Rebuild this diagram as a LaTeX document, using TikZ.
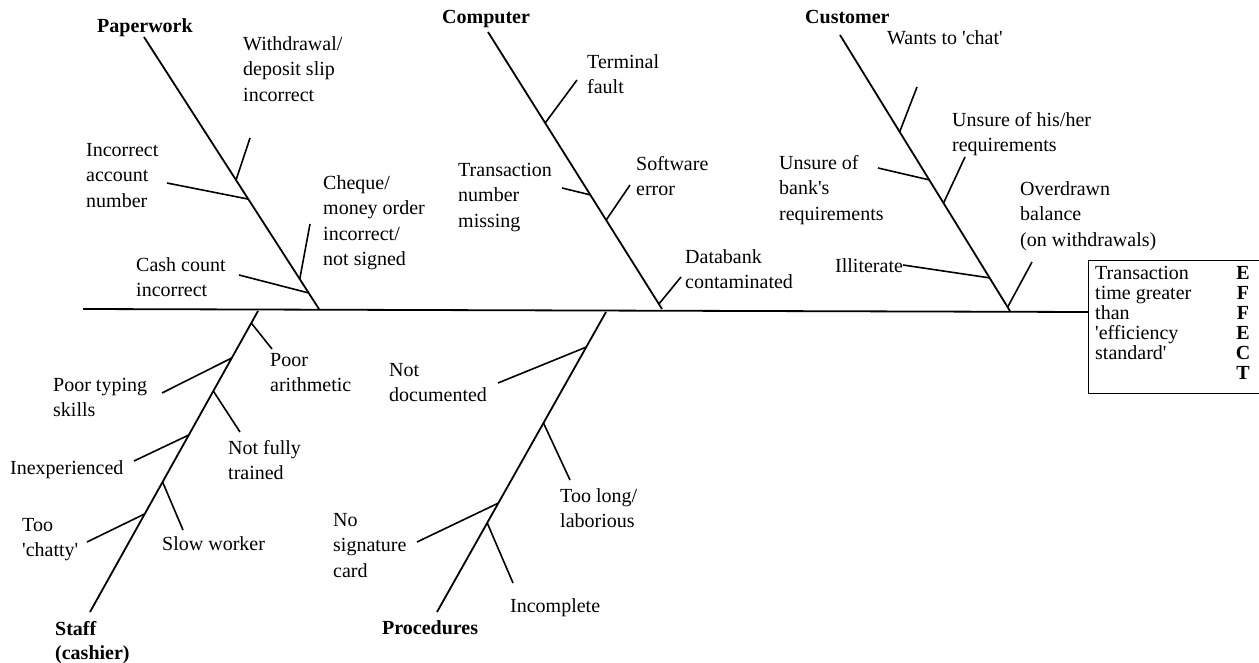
\documentclass[tikz,border=0pt]{standalone}
\usepackage{fontspec}
\setmainfont{Liberation Serif}
\usetikzlibrary{calc}
\newcommand{\sq}{\textquotesingle}
\begin{document}
\begin{tikzpicture}[x=1pt,y=-1pt,
  bone/.style={line width=1.8pt},
  twig/.style={line width=1.6pt},
  lbl/.style={anchor=north west, inner sep=0pt, align=left, font=\fontsize{20}{25.5}\selectfont},
  head/.style={anchor=north west, inner sep=0pt, align=left, font=\fontsize{20}{24}\selectfont\bfseries},
  boxtxt/.style={anchor=north west, inner sep=0pt, align=left, font=\fontsize{20}{20}\selectfont},
  boxlet/.style={anchor=north, inner sep=0pt, align=center, font=\fontsize{20}{20}\selectfont\bfseries},
]
\useasboundingbox (0,0) rectangle (1259,663);
\clip (0,0) rectangle (1259,663);

% effect box
\node[draw, line width=1.3pt, anchor=north west, inner sep=0pt, minimum width=185pt, minimum height=133pt] (effect) at (1088,260) {};
\node[boxtxt] (efftext) at (1095,266) {Transaction\\time greater\\than\\\sq efficiency\\standard\sq};
\node[boxlet] (effletters) at (1243,266) {E\\F\\F\\E\\C\\T};

% spine
\coordinate (tail) at (83,309);
\coordinate (head) at (1088,312);
\draw[bone] (tail) -- (head);

% main bones
\coordinate (P0) at (144,37);  \coordinate (P1) at (319,309);
\coordinate (C0) at (488,32);  \coordinate (C1) at (662,309);
\coordinate (U0) at (840,35);  \coordinate (U1) at (1010,311);
\coordinate (S0) at (258,311); \coordinate (S1) at (90,612);
\coordinate (R0) at (606,312); \coordinate (R1) at (437,612);
\draw[bone] (P0) -- (P1);
\draw[bone] (C0) -- (C1);
\draw[bone] (U0) -- (U1);
\draw[bone] (S0) -- (S1);
\draw[bone] (R0) -- (R1);

% category heads
\node[head] (paperwork) at (97,18) {Paperwork};
\node[head] (computer) at (442,10) {Computer};
\node[head] (customer) at (805,10) {Customer};
\node[head] (staff) at (55,621) {Staff\\(cashier)};
\node[head] (procedures) at (382,620) {Procedures};

% Paperwork causes
\node[lbl] (withdrawal) at (243,36) {Withdrawal/\\deposit slip\\incorrect};
\node[lbl] (account) at (86,143) {Incorrect\\account\\number};
\node[lbl] (cheque) at (323,175) {Cheque/\\money order\\incorrect/\\not signed};
\node[lbl] (cash) at (136,257) {Cash count\\incorrect};
\coordinate (w1) at (250,138); \draw[twig] (w1) -- ($(P0)!0.526!(P1)$);
\coordinate (a1) at (167,183); \draw[twig] (a1) -- ($(P0)!0.596!(P1)$);
\coordinate (q1) at (310,224); \draw[twig] (q1) -- ($(P0)!0.890!(P1)$);
\coordinate (k1) at (239,275); \draw[twig] (k1) -- ($(P0)!0.941!(P1)$);

% Computer causes
\node[lbl] (terminal) at (587,54) {Terminal\\fault};
\node[lbl] (transnum) at (458,163) {Transaction\\number\\missing};
\node[lbl] (software) at (636,156) {Software\\error};
\node[lbl] (databank) at (685,249) {Databank\\contaminated};
\coordinate (t1) at (577,80);  \draw[twig] (t1) -- ($(C0)!0.3285!(C1)$);
\coordinate (n1) at (562,188); \draw[twig] (n1) -- ($(C0)!0.588!(C1)$);
\coordinate (e1) at (630,185); \draw[twig] (e1) -- ($(C0)!0.679!(C1)$);
\coordinate (d1) at (681,277); \draw[twig] (d1) -- ($(C0)!0.982!(C1)$);

% Customer causes
\node[lbl] (chat) at (887,30) {Wants to \sq chat\sq};
\node[lbl] (hisher) at (952,112) {Unsure of his/her\\requirements};
\node[lbl] (banks) at (779,155) {Unsure of\\bank\sq s\\requirements};
\node[lbl] (overdrawn) at (1020,181) {Overdrawn\\balance\\(on withdrawals)};
\node[lbl] (illiterate) at (835,258) {Illiterate};
\coordinate (c1) at (917,87);  \draw[twig] (c1) -- ($(U0)!0.351!(U1)$);
\coordinate (b1) at (878,168); \draw[twig] (b1) -- ($(U0)!0.525!(U1)$);
\coordinate (h1) at (965,157); \draw[twig] (h1) -- ($(U0)!0.609!(U1)$);
\coordinate (i1) at (903,265); \draw[twig] (i1) -- ($(U0)!0.880!(U1)$);
\coordinate (o1) at (1032,262); \draw[twig] (o1) -- ($(U0)!0.986!(U1)$);

% Staff causes
\node[lbl] (arith) at (270,353) {Poor\\arithmetic};
\node[lbl] (typing) at (53,378) {Poor typing\\skills};
\node[lbl] (trained) at (228,440) {Not fully\\trained};
\node[lbl] (inexp) at (10,460) {Inexperienced};
\node[lbl] (chatty) at (22,518) {Too\\\sq chatty\sq};
\node[lbl] (slow) at (162,536) {Slow worker};
\coordinate (s1) at (272,349); \draw[twig] (s1) -- ($(S0)!0.04!(S1)$);
\coordinate (s2) at (162,393); \draw[twig] (s2) -- ($(S0)!0.156!(S1)$);
\coordinate (s3) at (240,432); \draw[twig] (s3) -- ($(S0)!0.266!(S1)$);
\coordinate (s4) at (134,461); \draw[twig] (s4) -- ($(S0)!0.412!(S1)$);
\coordinate (s5) at (183,530); \draw[twig] (s5) -- ($(S0)!0.568!(S1)$);
\coordinate (s6) at (87,542);  \draw[twig] (s6) -- ($(S0)!0.674!(S1)$);

% Procedures causes
\node[lbl] (notdoc) at (389,363) {Not\\documented};
\node[lbl] (toolong) at (560,488) {Too long/\\laborious};
\node[lbl] (nosig) at (333,513) {No\\signature\\card};
\node[lbl] (incomplete) at (510,598) {Incomplete};
\coordinate (r1) at (498,383); \draw[twig] (r1) -- ($(R0)!0.117!(R1)$);
\coordinate (r2) at (570,480); \draw[twig] (r2) -- ($(R0)!0.37!(R1)$);
\coordinate (r3) at (417,542); \draw[twig] (r3) -- ($(R0)!0.637!(R1)$);
\coordinate (r4) at (513,583); \draw[twig] (r4) -- ($(R0)!0.703!(R1)$);
\end{tikzpicture}
\end{document}
